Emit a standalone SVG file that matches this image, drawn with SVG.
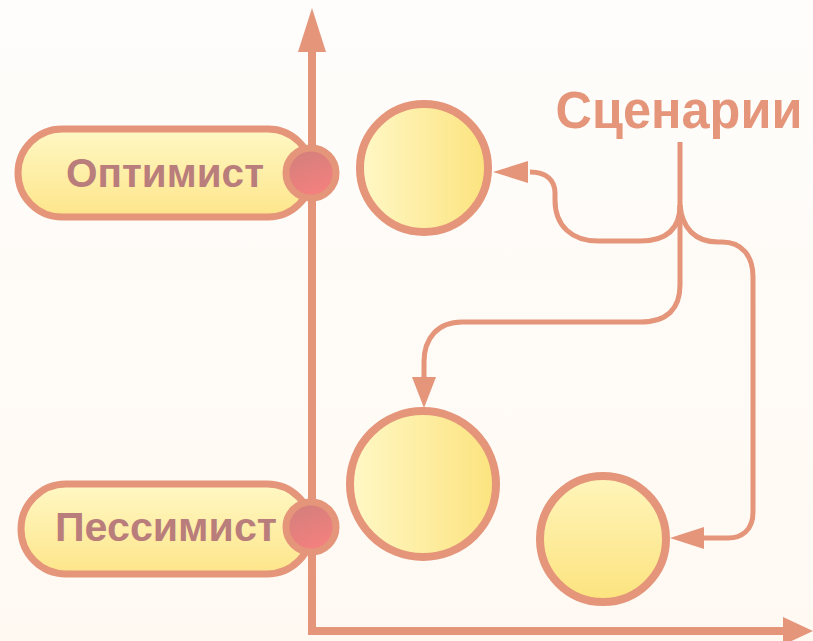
<svg xmlns="http://www.w3.org/2000/svg" width="813" height="641" viewBox="0 0 813 641">
<defs>
<linearGradient id="bg" x1="0" y1="0" x2="0" y2="1"><stop offset="0" stop-color="#fefdfb"/><stop offset="1" stop-color="#fff9f2"/></linearGradient>
<linearGradient id="pill" x1="0" y1="0" x2="0" y2="1"><stop offset="0" stop-color="#fff8c4"/><stop offset="1" stop-color="#fde58a"/></linearGradient>
<linearGradient id="ball" x1="0" y1="0" x2="1" y2="0"><stop offset="0" stop-color="#fff8c6"/><stop offset="1" stop-color="#fce37e"/></linearGradient>
<linearGradient id="ballv" x1="0" y1="0" x2="0" y2="1"><stop offset="0" stop-color="#fff5bb"/><stop offset="1" stop-color="#fce37e"/></linearGradient>
<linearGradient id="dot" x1="0" y1="0" x2="0.4" y2="1"><stop offset="0" stop-color="#cf7f7c"/><stop offset="1" stop-color="#f3807e"/></linearGradient>
</defs>
<style>
.ax{fill:none;stroke:#e4957a;stroke-width:8}
.axh{fill:#e4957a}
.pill{fill:url(#pill);stroke:#e4957a;stroke-width:7}
.lbl{font-family:"Liberation Sans",Arial,sans-serif;font-weight:bold;font-size:41px;fill:#b97d7b}
.ball{stroke:#e4957a;stroke-width:8}
.dot{fill:url(#dot);stroke:#e4957a;stroke-width:7}
.con{fill:none;stroke:#e4957a;stroke-width:5}
.head{fill:#e4957a}
.title{font-family:"Liberation Sans",Arial,sans-serif;font-weight:bold;font-size:51px;fill:#e4957a}
</style>
<rect width="813" height="641" fill="url(#bg)"/>
<g id="axes">
<path class="ax" d="M312,50 L312,631 L786,631"/>
<path class="axh" d="M312,8 L326,52 L298,52 Z"/>
<path class="axh" d="M813,631 L783,617 L783,645 Z"/>
</g>
<g id="optimist">
<rect class="pill" x="18" y="129" width="294" height="88" rx="44"/>
<text class="lbl" x="165" y="187" text-anchor="middle" textLength="198" lengthAdjust="spacingAndGlyphs">Оптимист</text>
<circle class="dot" cx="311" cy="173" r="25"/>
</g>
<g id="pessimist">
<rect class="pill" x="21" y="484" width="291" height="90" rx="45"/>
<text class="lbl" x="166" y="541" text-anchor="middle" textLength="222" lengthAdjust="spacingAndGlyphs">Пессимист</text>
<circle class="dot" cx="311" cy="527" r="25"/>
</g>
<g id="scenario1"><circle class="ball" fill="url(#ball)" cx="424" cy="168" r="64"/></g>
<g id="scenario2"><circle class="ball" fill="url(#ball)" cx="423" cy="484" r="73"/></g>
<g id="scenario3"><circle class="ball" fill="url(#ballv)" cx="603" cy="539" r="63"/></g>
<g id="title"><text class="title" x="679" y="128" text-anchor="middle" textLength="247" lengthAdjust="spacingAndGlyphs">Сценарии</text></g>
<g id="connectors">
<path class="con" d="M680,142 L680,205 C680,228 668,241 640,241 L598,241 C572,241 555,226 555,200 L555,193 C555,180 546,172 530,172"/>
<path class="head" d="M493,172 L528,161 L528,183 Z"/>
<path class="con" d="M680,205 L680,285 C680,308 668,322 640,322 L462,322 C438,322 424,338 424,362 L424,380"/>
<path class="head" d="M424,408 L412,377 L436,377 Z"/>
<path class="con" d="M680,205 C682,228 695,242 718,242 L722,242 C742,242 753,256 753,277 L753,512 C753,530 742,538 728,538 L703,538"/>
<path class="head" d="M670,538 L704,527 L704,549 Z"/>
</g>
</svg>
